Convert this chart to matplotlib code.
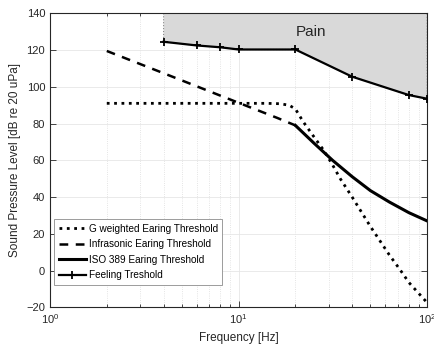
import matplotlib
matplotlib.use("Agg")
import matplotlib.pyplot as plt
from matplotlib.ticker import LogLocator, NullFormatter

plt.rcParams['font.family'] = ['Liberation Sans', 'DejaVu Sans']

# G weighted hearing threshold
g_freq = [2, 5, 10, 14, 16.5, 18.5, 20, 22, 25, 28.2, 31.5, 34.6, 40, 50, 63, 72, 80, 100]
g_spl = [91, 91, 91, 91, 90.8, 90, 88, 81, 73, 65.6, 57.5, 50, 40, 24, 8.5, 0.3, -6.5, -17.5]

# infrasonic hearing threshold
inf_freq = [2, 4, 8, 10, 16, 20]
inf_spl = [119.5, 107.4, 95.2, 91.3, 83.1, 79]

# ISO 389 hearing threshold
iso_freq = [20, 25, 31.5, 40, 50, 63, 80, 100]
iso_spl = [79, 69.5, 60, 51.1, 43.5, 37.3, 31.5, 27]

# feeling threshold (pain region above)
feel_freq = [4, 6, 8, 10, 20, 40, 80, 100]
feel_spl = [124.5, 122.5, 121.5, 120.3, 120.3, 105.5, 95.5, 93.5]

fig = plt.figure(figsize=(4.35, 3.5), dpi=100)
ax = fig.add_axes([0.115, 0.122, 0.867, 0.840])

ax.fill_between(feel_freq, feel_spl, 140, facecolor='#d9d9d9',
                edgecolor='#8c8c8c', linestyle=':', linewidth=0.8, zorder=1)

ax.plot(g_freq, g_spl, color='k', linestyle=':', linewidth=2.0,
        label='G weighted Earing Threshold', zorder=3)
ax.plot(inf_freq, inf_spl, color='k', linestyle=(0, (3.5, 3)), linewidth=1.8,
        label='Infrasonic Earing Threshold', zorder=3)
ax.plot(iso_freq, iso_spl, color='k', linestyle='-', linewidth=2.2,
        label='ISO 389 Earing Threshold', zorder=3)
ax.plot(feel_freq, feel_spl, color='k', linestyle='-', linewidth=1.6,
        marker='+', markersize=6, markeredgewidth=1.3,
        label='Feeling Treshold', zorder=3)

ax.text(24.2, 130, 'Pain', fontsize=11, ha='center', va='center', color='#262626')

ax.set_xscale('log')
ax.set_xlim(1, 100)
ax.set_ylim(-20, 140)
ax.set_yticks(range(-20, 141, 20))
ax.xaxis.set_minor_locator(LogLocator(base=10, subs=range(2, 10)))
ax.xaxis.set_minor_formatter(NullFormatter())

ax.grid(True, which='major', color='#e6e6e6', linewidth=0.6, zorder=0)
ax.grid(True, which='minor', axis='x', color='#dcdcdc', linestyle=':', linewidth=0.6, zorder=0)
ax.set_axisbelow(True)

ax.tick_params(which='both', direction='in', top=True, right=True, labelsize=8, colors='#262626')
ax.tick_params(which='major', length=4, width=0.6)
ax.tick_params(which='minor', length=2.5, width=0.6)
for s in ax.spines.values():
    s.set_linewidth(0.8)
    s.set_color('#262626')

ax.set_xlabel('Frequency [Hz]', fontsize=8.5, color='#262626')
ax.set_ylabel('Sound Pressure Level [dB re 20 uPa]', fontsize=8.5, color='#262626')

leg = ax.legend(loc='lower left', bbox_to_anchor=(0.011, 0.076), fontsize=7.2,
                handlelength=2.7, handletextpad=0.3, borderpad=0.45, labelspacing=0.55,
                fancybox=False, framealpha=1, edgecolor='#8c8c8c', borderaxespad=0)
leg.get_frame().set_linewidth(0.6)

fig.savefig('out.png', dpi=100)
